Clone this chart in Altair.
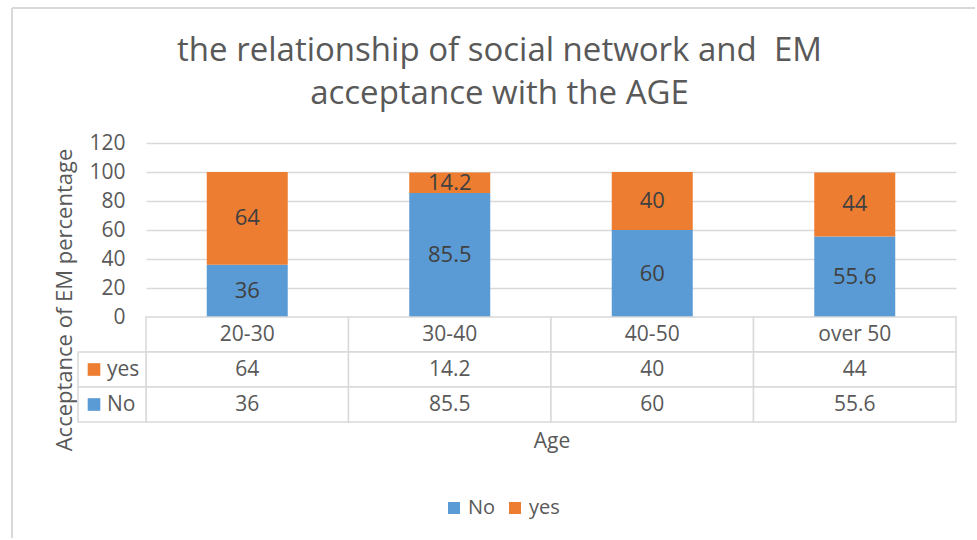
import altair as alt
import pandas as pd

# ---- data ----
categories = ["20-30", "30-40", "40-50", "over 50"]
no_values = [36, 85.5, 60, 55.6]
yes_values = [64, 14.2, 40, 44]
series_names = ["No", "yes"]
series_colors = ["#5B9BD5", "#ED7D31"]
y_ticks = [0, 20, 40, 60, 80, 100, 120]
title_lines = ["the relationship of social network and \u00a0EM", "acceptance with the AGE"]
y_title = "Acceptance of EM percentage"
x_title = "Age"
table_rows = ["cat", "yes", "No"]

FONT = "Open Sans"
TEXT = "#595959"
DARK = "#404040"
GRID = "#d9d9d9"


def lab(v):
    return f"{v:g}"


bars_df = pd.DataFrame({
    "category": categories * 2,
    "series": ["No"] * len(categories) + ["yes"] * len(categories),
    "value": no_values + yes_values,
    "label": [lab(v) for v in no_values + yes_values],
    "order": [0] * len(categories) + [1] * len(categories),
})

table_df = pd.DataFrame({
    "category": categories * 3,
    "row": ["cat"] * 4 + ["yes"] * 4 + ["No"] * 4,
    "text": categories + [lab(v) for v in yes_values] + [lab(v) for v in no_values],
})
header_df = pd.DataFrame({"row": ["yes", "No"], "series": ["yes", "No"]})
one = pd.DataFrame({"k": [0]})

color_scale = alt.Scale(domain=series_names, range=series_colors)

# ---- top chart (bars) ----
xb = alt.X("category:N", sort=categories,
           scale=alt.Scale(paddingInner=0.6, paddingOuter=0.3), axis=None)
yscale = alt.Scale(domain=[0, 120], nice=False)
yaxis = alt.Axis(values=y_ticks, tickCount=7, title=None, grid=True,
                 gridColor=GRID, gridWidth=1.5, domain=False, ticks=False,
                 labelFontSize=21, labelColor=TEXT, labelFont=FONT,
                 labelPadding=21, labelOverlap=False)

bars = alt.Chart(bars_df).mark_bar().encode(
    x=xb,
    y=alt.Y("value:Q", stack="zero", scale=yscale, axis=yaxis),
    color=alt.Color("series:N", scale=color_scale,
                    legend=alt.Legend(orient="none", legendX=298, legendY=355,
                                      direction="horizontal", title=None,
                                      symbolType="square", symbolSize=144,
                                      symbolStrokeWidth=0, symbolOpacity=1,
                                      labelFontSize=20, labelFont=FONT,
                                      labelColor=TEXT, labelOffset=4,
                                      columnPadding=9, padding=0)),
    order=alt.Order("order:Q"),
)

labels = alt.Chart(bars_df).transform_stack(
    stack="value", groupby=["category"], as_=["v0", "v1"],
    sort=[alt.SortField("order", order="ascending")],
).transform_calculate(mid="(datum.v0 + datum.v1) / 2").mark_text(
    fontSize=22, font=FONT, color=DARK, baseline="middle"
).encode(x=xb, y=alt.Y("mid:Q", scale=yscale, axis=yaxis), text="label:N")

frame_top = alt.Chart(one).mark_rule(color=GRID, strokeWidth=2).encode(
    x=alt.value(-134), x2=alt.value(829), y=alt.value(-135))
frame_left = alt.Chart(one).mark_rule(color=GRID, strokeWidth=2).encode(
    x=alt.value(-134), y=alt.value(-135), y2=alt.value(395))

title_txt = alt.Chart(one).mark_text(
    fontSize=33, font=FONT, color=TEXT, align="center", baseline="alphabetic",
    lineHeight=43,
).encode(x=alt.value(353.5), y=alt.value(-82), text=alt.value(title_lines))

ytitle_txt = alt.Chart(one).mark_text(
    fontSize=22, font=FONT, color=TEXT, angle=270, align="center", baseline="middle"
).encode(x=alt.value(-81), y=alt.value(157), text=alt.value(y_title))

top = alt.layer(frame_top, frame_left, bars, labels, title_txt, ytitle_txt).properties(
    width=810, height=174)

# ---- data table ----
xt = alt.X("category:N", sort=categories,
           scale=alt.Scale(paddingInner=0, paddingOuter=0), axis=None)
yt = alt.Y("row:N", sort=table_rows,
           scale=alt.Scale(domain=table_rows, paddingInner=0, paddingOuter=0), axis=None)

cells = alt.Chart(table_df).mark_rect(fill="white", stroke=GRID, strokeWidth=1.5).encode(
    x=xt, y=yt)
cell_text = alt.Chart(table_df).mark_text(fontSize=21, font=FONT, color=TEXT).encode(
    x=xt, y=yt, text="text:N")
header_cells = alt.Chart(header_df).mark_rect(fill="white", stroke=GRID, strokeWidth=1.5).encode(
    x=alt.value(-68), x2=alt.value(0), y=yt)
header_sq = alt.Chart(header_df).mark_square(size=160, opacity=1, filled=True).encode(
    x=alt.value(-52), y=yt,
    color=alt.Color("series:N", scale=color_scale, legend=None))
header_txt = alt.Chart(header_df).mark_text(
    fontSize=21, font=FONT, color=TEXT, align="left").encode(
    x=alt.value(-39), y=yt, text="series:N")
age_txt = alt.Chart(one).mark_text(fontSize=21, font=FONT, color=TEXT).encode(
    x=alt.value(406), y=alt.value(125), text=alt.value(x_title))

table = alt.layer(cells, header_cells, cell_text, header_sq, header_txt, age_txt).properties(
    width=810, height=105)

chart = alt.vconcat(top, table, spacing=0, bounds="flush").resolve_scale(
    x="independent", y="independent", color="independent"
).resolve_legend(color="independent").configure_view(strokeWidth=0).properties(
    padding={"left": 11, "top": 7, "right": 0, "bottom": 0}
)

chart.save("out.html", embed_options={"renderer": "svg", "actions": False})
